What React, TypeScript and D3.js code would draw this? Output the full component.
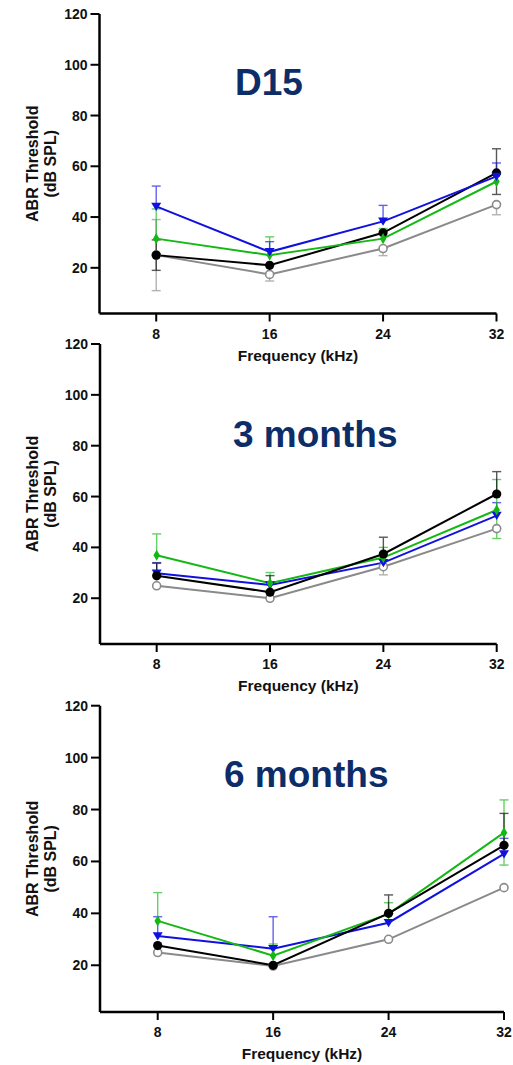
import React from "react";
import * as d3 from "d3";

const frequencies = [8, 16, 24, 32];
const yTicks = [20, 40, 60, 80, 100, 120];
const xTicks = [8, 16, 24, 32];
const panelTitles = ["D15", "3 months", "6 months"];

// Series per panel: values, upper error, lower error
const d15Blue = [44.2, 26.3, 38.3, 56];
const d15BlueUp = [8, 4, 6.3, 5.3];
const d15BlueDn = [0, 0, 0, 0];
const d15Black = [25, 21, 33.8, 57.4];
const d15BlackUp = [6, 0, 0, 9.5];
const d15BlackDn = [6, 0, 0, 8.5];
const d15Green = [31.5, 25, 31.5, 54];
const d15GreenUp = [11.7, 7.2, 4, 0];
const d15GreenDn = [0, 0, 0, 0];
const d15Gray = [25, 17.4, 27.6, 44.9];
const d15GrayUp = [14, 0, 0, 0];
const d15GrayDn = [14, 2.6, 2.8, 4];

const m3Blue = [29.8, 25.2, 34, 52.5];
const m3BlueUp = [4.2, 0, 0, 5.1];
const m3BlueDn = [0, 0, 0, 0];
const m3Black = [28.8, 22.4, 37.4, 61];
const m3BlackUp = [5, 6.5, 6.6, 8.8];
const m3BlackDn = [0, 0, 0, 0];
const m3Green = [36.9, 25.9, 36, 54.7];
const m3GreenUp = [8.4, 4.2, 4, 12];
const m3GreenDn = [0, 0, 0, 11.2];
const m3Gray = [24.9, 20, 32.4, 47.4];
const m3GrayUp = [0, 0, 0, 0];
const m3GrayDn = [0, 0, 3.2, 0];

const m6Blue = [31.3, 26.4, 36.4, 62.9];
const m6BlueUp = [7.4, 12.3, 0, 6];
const m6BlueDn = [0, 0, 0, 0];
const m6Black = [27.6, 20, 40, 66.2];
const m6BlackUp = [0, 0, 7.1, 12.3];
const m6BlackDn = [0, 0, 0, 0];
const m6Green = [37.1, 23.7, 39.8, 71.1];
const m6GreenUp = [10.9, 4.5, 4.3, 12.6];
const m6GreenDn = [0, 0, 0, 12.5];
const m6Gray = [24.9, 19.7, 30, 49.9];
const m6GrayUp = [0, 0, 0, 0];
const m6GrayDn = [0, 0, 0, 0];

type Series = { key: string; values: number[]; up: number[]; dn: number[] };

const panelsData: Series[][] = [
  [
    { key: "gray", values: d15Gray, up: d15GrayUp, dn: d15GrayDn },
    { key: "black", values: d15Black, up: d15BlackUp, dn: d15BlackDn },
    { key: "green", values: d15Green, up: d15GreenUp, dn: d15GreenDn },
    { key: "blue", values: d15Blue, up: d15BlueUp, dn: d15BlueDn },
  ],
  [
    { key: "gray", values: m3Gray, up: m3GrayUp, dn: m3GrayDn },
    { key: "blue", values: m3Blue, up: m3BlueUp, dn: m3BlueDn },
    { key: "green", values: m3Green, up: m3GreenUp, dn: m3GreenDn },
    { key: "black", values: m3Black, up: m3BlackUp, dn: m3BlackDn },
  ],
  [
    { key: "gray", values: m6Gray, up: m6GrayUp, dn: m6GrayDn },
    { key: "blue", values: m6Blue, up: m6BlueUp, dn: m6BlueDn },
    { key: "green", values: m6Green, up: m6GreenUp, dn: m6GreenDn },
    { key: "black", values: m6Black, up: m6BlackUp, dn: m6BlackDn },
  ],
];

const colors: Record<string, string> = {
  gray: "#8a8a8a",
  black: "#000000",
  green: "#14b814",
  blue: "#1010e0",
};

const layouts = [
  { left: 99.5, right: 496.5, top: 14, bottom: 313.5, titleX: 235, titleY: 95 },
  { left: 100, right: 496.7, top: 344, bottom: 644, titleX: 233, titleY: 447 },
  { left: 100, right: 504, top: 705.7, bottom: 1012, titleX: 224, titleY: 786.5 },
];

const FONT = "'Liberation Sans', Arial, Helvetica, sans-serif";

function Marker({ kind, x, y }: { kind: string; x: number; y: number }) {
  const c = colors[kind];
  if (kind === "black") return <circle cx={x} cy={y} r={4.6} fill={c} />;
  if (kind === "gray")
    return <circle cx={x} cy={y} r={4} fill="white" stroke={c} strokeWidth={1.6} />;
  if (kind === "green") {
    const p = d3.symbol().type(d3.symbolDiamond).size(36)();
    return <path d={p || ""} transform={`translate(${x},${y})`} fill={c} />;
  }
  const s = 5;
  return (
    <path
      d={`M${x - s},${y - s * 0.75}L${x + s},${y - s * 0.75}L${x},${y + s * 0.9}Z`}
      fill={c}
    />
  );
}

function Panel({ idx }: { idx: number }) {
  const L = layouts[idx];
  const x = d3.scaleLinear().domain([4, 32]).range([L.left, L.right]);
  const y = d3.scaleLinear().domain([2, 120]).range([L.bottom, L.top]);
  const series = panelsData[idx];
  const line = d3
    .line<number>()
    .x((_, i) => x(frequencies[i]))
    .y((d) => y(d));
  const midY = (L.top + L.bottom) / 2;
  const midX = (L.left + L.right) / 2;
  return (
    <g>
      {series.map((s) =>
        s.values.map((v, i) => {
          const cx = x(frequencies[i]);
          const out: JSX.Element[] = [];
          const col = colors[s.key];
          if (s.up[i] > 0) {
            const yt = y(v + s.up[i]);
            out.push(
              <g key={`u${s.key}${i}`} stroke={col} strokeWidth={1.4} opacity={0.65}>
                <line x1={cx} x2={cx} y1={y(v)} y2={yt} />
                <line x1={cx - 4.5} x2={cx + 4.5} y1={yt} y2={yt} />
              </g>
            );
          }
          if (s.dn[i] > 0) {
            const yb = y(v - s.dn[i]);
            out.push(
              <g key={`d${s.key}${i}`} stroke={col} strokeWidth={1.4} opacity={0.65}>
                <line x1={cx} x2={cx} y1={y(v)} y2={yb} />
                <line x1={cx - 4.5} x2={cx + 4.5} y1={yb} y2={yb} />
              </g>
            );
          }
          return out;
        })
      )}
      {series.map((s) => (
        <path
          key={"l" + s.key}
          d={line(s.values) || ""}
          fill="none"
          stroke={colors[s.key]}
          strokeWidth={2}
        />
      ))}
      {series.map((s) =>
        s.values.map((v, i) => (
          <Marker key={`m${s.key}${i}`} kind={s.key} x={x(frequencies[i])} y={y(v)} />
        ))
      )}
      <line x1={L.left} x2={L.left} y1={y(120)} y2={L.bottom} stroke="#000" strokeWidth={2.5} />
      <line x1={L.left} x2={L.right} y1={L.bottom} y2={L.bottom} stroke="#000" strokeWidth={2.5} />
      {yTicks.map((t) => (
        <g key={"yt" + t}>
          <line x1={L.left - 9} x2={L.left} y1={y(t)} y2={y(t)} stroke="#000" strokeWidth={2} />
          <text
            x={L.left - 12}
            y={y(t)}
            textAnchor="end"
            dominantBaseline="central"
            fontFamily={FONT}
            fontWeight="bold"
            fontSize={14}
            fill="#111"
          >
            {t}
          </text>
        </g>
      ))}
      {xTicks.map((t) => (
        <g key={"xt" + t}>
          <line x1={x(t)} x2={x(t)} y1={L.bottom} y2={L.bottom + 8} stroke="#000" strokeWidth={2} />
          <text
            x={x(t)}
            y={L.bottom + 25}
            textAnchor="middle"
            fontFamily={FONT}
            fontWeight="bold"
            fontSize={14}
            fill="#111"
          >
            {t}
          </text>
        </g>
      ))}
      <text
        x={midX}
        y={L.bottom + 47}
        textAnchor="middle"
        fontFamily={FONT}
        fontWeight="bold"
        fontSize={15.5}
        fill="#111"
      >
        Frequency (kHz)
      </text>
      <text
        transform={`translate(32,${midY}) rotate(-90)`}
        textAnchor="middle"
        dominantBaseline="central"
        fontFamily={FONT}
        fontWeight="bold"
        fontSize={16}
        fill="#111"
      >
        ABR Threshold
      </text>
      <text
        transform={`translate(50,${midY}) rotate(-90)`}
        textAnchor="middle"
        dominantBaseline="central"
        fontFamily={FONT}
        fontWeight="bold"
        fontSize={16}
        fill="#111"
      >
        (dB SPL)
      </text>
      <text
        x={L.titleX}
        y={L.titleY}
        fontFamily={FONT}
        fontWeight="bold"
        fontSize={37}
        fill="#0d2d69"
      >
        {panelTitles[idx]}
      </text>
    </g>
  );
}

export default function App() {
  return (
    <svg
      width={513}
      height={1065}
      style={{ position: "absolute", left: 0, top: 0, background: "white" }}
    >
      <rect width={513} height={1065} fill="white" />
      {[0, 1, 2].map((i) => (
        <Panel key={i} idx={i} />
      ))}
    </svg>
  );
}
